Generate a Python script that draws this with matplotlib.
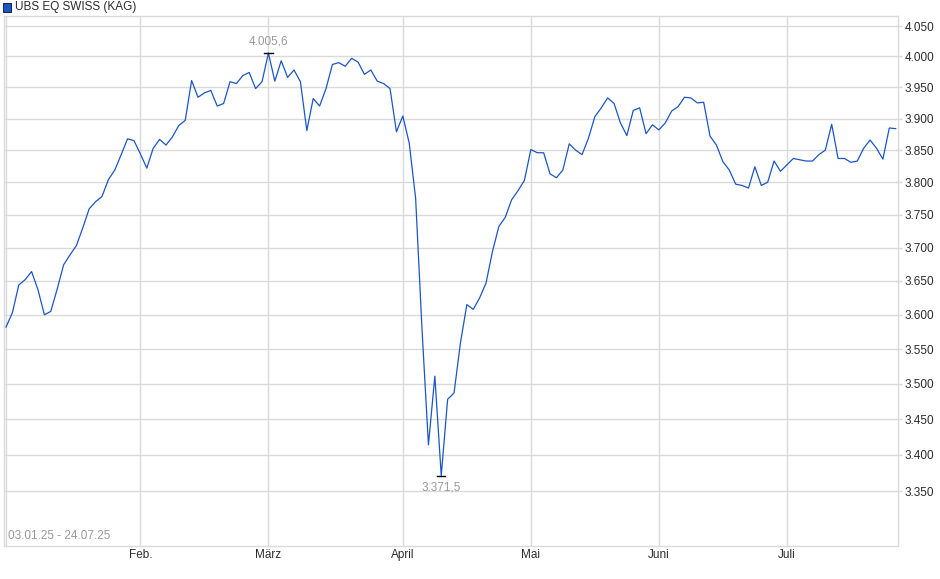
import matplotlib
matplotlib.use('Agg')
import matplotlib.pyplot as plt
import matplotlib.ticker as mticker
from matplotlib.patches import Rectangle
import numpy as np
import pandas as pd

plt.rcParams['font.family'] = ['Liberation Sans', 'DejaVu Sans']

# --- data -------------------------------------------------------------------
series_name = 'UBS EQ SWISS (KAG)'
holidays = ['2025-04-18', '2025-04-21', '2025-05-01', '2025-05-29', '2025-06-09']
month_labels = ['Feb.', 'März', 'April', 'Mai', 'Juni', 'Juli']
y_ticks = [3350, 3400, 3450, 3500, 3550, 3600, 3650, 3700, 3750, 3800,
           3850, 3900, 3950, 4000, 4050]

prices = [
    3582, 3603, 3644, 3652, 3664, 3637, 3600, 3605, 3638, 3674,
    3689, 3703, 3730, 3759, 3770, 3778, 3804, 3819, 3843, 3868,
    3865, 3844, 3822, 3853, 3867, 3858, 3871, 3889, 3897, 3961,
    3934, 3941, 3945, 3920, 3924, 3959, 3956, 3969, 3974, 3948,
    3959, 4005.6, 3960, 3993, 3966, 3978, 3959, 3881, 3932, 3920,
    3948, 3987, 3990, 3984, 3997, 3991, 3971, 3978, 3960, 3956,
    3948, 3879, 3904, 3861, 3775, 3578, 3414, 3511, 3371.5, 3478,
    3487, 3559, 3615, 3608, 3625, 3647, 3694, 3732, 3746, 3773,
    3787, 3803, 3851, 3846, 3846, 3813, 3807, 3819, 3860, 3850,
    3843, 3869, 3903, 3917, 3933, 3924, 3893, 3873, 3913, 3917,
    3876, 3890, 3882, 3893, 3912, 3919, 3934, 3933, 3925, 3926,
    3872, 3858, 3832, 3819, 3797, 3795, 3791, 3824, 3795, 3800,
    3833, 3817, 3827, 3837, 3835, 3833, 3833, 3843, 3850, 3891,
    3837, 3837, 3831, 3833, 3853, 3866, 3853, 3836, 3885, 3884,
]

dates = pd.bdate_range('2025-01-03', '2025-07-24')
dates = dates[~dates.isin(pd.to_datetime(holidays))]
prices = np.array(prices)
idx = np.arange(len(prices))

# first trading day of every new month -> x tick positions
month_starts = [i for i in range(1, len(dates))
                if dates[i].month != dates[i - 1].month]


def de_fmt(v, dec=0):
    s = f'{v:,.{dec}f}'
    return s.replace(',', 'X').replace('.', ',').replace('X', '.')


# --- plot -------------------------------------------------------------------
grid_c = '#dadada'
text_c = '#2b2b2b'
line_c = '#1a56c4'

fig = plt.figure(figsize=(9.4, 5.79), dpi=100)
ax = fig.add_axes([4 / 940, 33 / 579, 894 / 940, 530 / 579])

ax.plot(idx, prices, color=line_c, linewidth=0.9, zorder=3)

ax.set_yscale('log')
ax.set_ylim(3276, 4066.6)
ax.set_xlim(-0.31, 139.36)

ax.yaxis.set_major_locator(mticker.FixedLocator(y_ticks))
ax.yaxis.set_minor_locator(mticker.NullLocator())
ax.yaxis.set_major_formatter(mticker.FuncFormatter(lambda v, p: de_fmt(v)))
ax.yaxis.tick_right()
ax.tick_params(axis='y', length=3, width=1, color=grid_c, pad=2,
               labelsize=8.5, labelcolor=text_c)

ax.set_xticks(month_starts)
ax.set_xticklabels(month_labels)
ax.tick_params(axis='x', length=0, pad=2.5,
               labelsize=8.5, labelcolor=text_c)

ax.grid(True, color=grid_c, linewidth=1, zorder=0)
ax.axvline(0, color=grid_c, linewidth=1, zorder=0)
for s in ax.spines.values():
    s.set_color(grid_c)
    s.set_linewidth(1)

# max / min markers
i_max = int(np.argmax(prices))
i_min = int(np.argmin(prices))
for i, off, va in [(i_max, 4, 'bottom'), (i_min, -4, 'top')]:
    ax.plot([i - 0.65, i + 0.65], [prices[i], prices[i]], color='black',
            linewidth=1, zorder=4)
    ax.annotate(de_fmt(prices[i], 1), (i, prices[i]), xytext=(0, off),
                textcoords='offset points', ha='center', va=va,
                fontsize=8.5, color='#999999')

# date range label
ax.text(0.005, 0.008, dates[0].strftime('%d.%m.%y') + ' - '
        + dates[-1].strftime('%d.%m.%y'), transform=ax.transAxes,
        fontsize=8.5, color='#999999', ha='left', va='bottom')

# legend on top
fig.patches.append(Rectangle((3 / 940, 1 - 12 / 579), 8 / 940, 9 / 579,
                             transform=fig.transFigure, facecolor=line_c,
                             edgecolor='#1a2a55', linewidth=0.8))
fig.text(15 / 940, 1 - 7 / 579, series_name, fontsize=8.5, color=text_c,
         ha='left', va='center')

fig.savefig('out.png', dpi=100)
